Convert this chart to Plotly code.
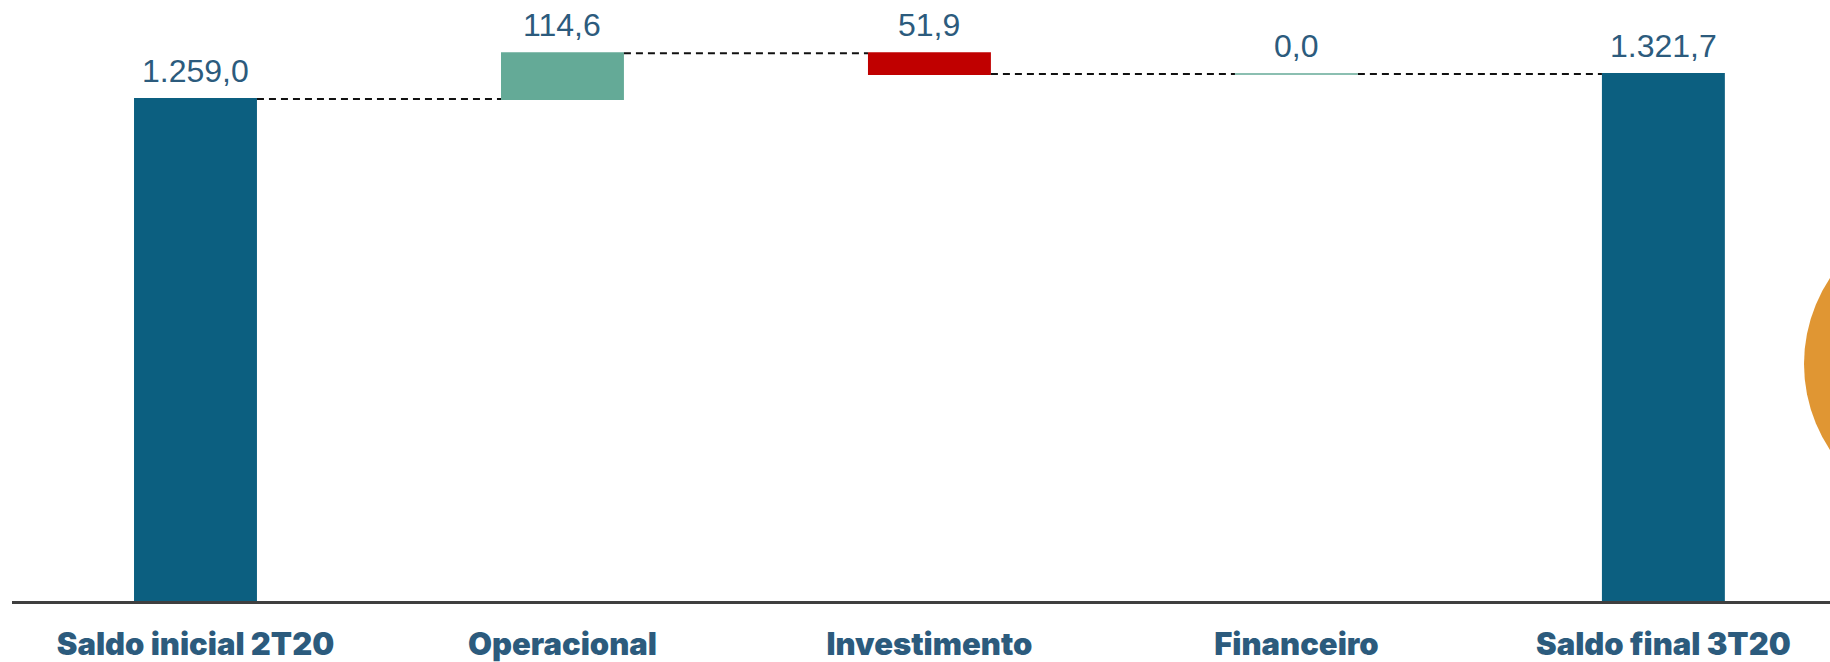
import plotly.graph_objects as go

# Cash flow bridge (R$ milhões)
categories = ["Saldo inicial 2T20", "Operacional", "Investimento", "Financeiro", "Saldo final 3T20"]
measures = ["absolute", "relative", "relative", "relative", "total"]
values = [1259.0, 114.6, -51.9, 0.0, None]

TOTAL_COLOR = "#0c5f80"
UP_COLOR = "#64aa97"
DOWN_COLOR = "#c00000"
TEXT_COLOR = "#2c5b7d"
BAR_WIDTH = 0.335


def fmt_br(v):
    s = f"{abs(v):,.1f}"
    return s.replace(",", "X").replace(".", ",").replace("X", ".")


# running levels so labels sit on top of each bar
starts, ends = [], []
level = 0.0
for m, v in zip(measures, values):
    if m == "absolute":
        s, e = 0.0, v
        level = v
    elif m == "relative":
        s, e = level, level + v
        level = e
    else:
        s, e = 0.0, level
    starts.append(s)
    ends.append(e)

label_values = [v if v is not None else level for v in values]

x_pos = list(range(len(categories)))

fig = go.Figure()
fig.add_trace(go.Waterfall(
    x=x_pos,
    y=[v if v is not None else 0 for v in values],
    measure=measures,
    width=[BAR_WIDTH] * len(categories),
    increasing=dict(marker=dict(color=UP_COLOR)),
    decreasing=dict(marker=dict(color=DOWN_COLOR)),
    totals=dict(marker=dict(color=TOTAL_COLOR)),
    connector=dict(mode="between", line=dict(color="#111111", width=2, dash="7px,5px")),
    textinfo="none",
    hoverinfo="skip",
))

# flat marker for zero movements
for i, v in enumerate(values):
    if v == 0:
        fig.add_shape(type="line", xref="x", yref="y",
                      x0=i - BAR_WIDTH / 2, x1=i + BAR_WIDTH / 2,
                      y0=ends[i], y1=ends[i],
                      line=dict(color=UP_COLOR, width=1.5))

# value labels
for i, lv in enumerate(label_values):
    top = max(starts[i], ends[i])
    fig.add_annotation(x=i, y=top, xref="x", yref="y", text=fmt_br(lv),
                       showarrow=False, yanchor="bottom", yshift=8,
                       font=dict(family="Liberation Sans, Arial, sans-serif", size=32, color=TEXT_COLOR))

# decorative disc at the right edge
fig.add_shape(type="circle", xref="paper", yref="paper",
              x0=(1804 - 12) / 1818, x1=(2114 - 12) / 1818,
              y0=(601 - 519) / 601, y1=(601 - 209) / 601,
              fillcolor="#e09633", line=dict(width=0), layer="below")

fig.update_layout(
    width=1830, height=662,
    margin=dict(l=12, r=0, t=0, b=61),
    paper_bgcolor="white", plot_bgcolor="white",
    showlegend=False,
    xaxis=dict(
        range=[-0.5, 4.454],
        tickmode="array", tickvals=x_pos, ticktext=categories,
        showgrid=False, zeroline=False,
        showline=True, linecolor="#3f3f3f", linewidth=2.5,
        ticks="", ticklabelstandoff=14,
        tickfont=dict(family="Inter, sans-serif", size=31, color=TEXT_COLOR, weight=900),
    ),
    yaxis=dict(range=[0, 1507], visible=False, showgrid=False, zeroline=False),
)

fig.write_html("out.html")
